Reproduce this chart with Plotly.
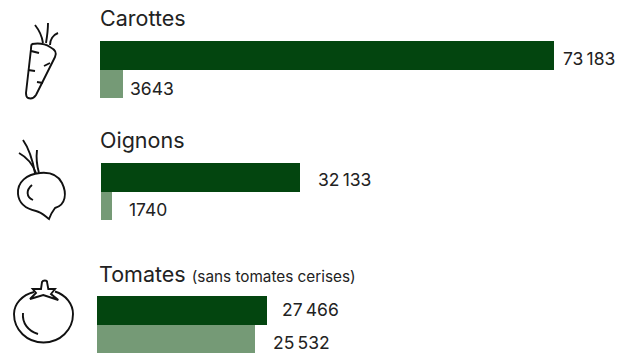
import re
import plotly.graph_objects as go

# Vegetables and their two yearly figures
categories = ["Carottes", "Oignons", "Tomates"]
subtitles = ["", "", " <span style='font-size:15.3px'>(sans tomates cerises)</span>"]
dark_values = [73183, 32133, 27466]
light_values = [3643, 1740, 25532]
dark_labels = ["73\u2009183", "32\u2009133", "27\u2009466"]
light_labels = ["3643", "1740", "25\u2009532"]

W, H = 632, 354
DARK, LIGHT = "#03450f", "#759a76"
INK = "#222222"
FONT = "Inter"
PX_PER_UNIT = 0.0062

# Per-group layout in pixels: bar start, top, bottom, title position,
# and the label offsets from the end of each bar
groups = [
    dict(x0=100, top=40, bottom=98, title_y=18, title_x=100,
         dark_shift=7, light_shift=5, dark_rise=-3, light_rise=-4.5),
    dict(x0=101, top=163, bottom=220, title_y=140, title_x=100,
         dark_shift=16, light_shift=15, dark_rise=-2, light_rise=-3.5),
    dict(x0=97, top=296, bottom=353, title_y=274, title_x=99,
         dark_shift=13, light_shift=16, dark_rise=1, light_rise=-4),
]


def paper_path(d):
    """Convert an SVG path in pixel coordinates to paper coordinates."""
    tokens = re.findall(r"[MLCZ]|-?[\d.]+", d)
    out, is_x = [], True
    for t in tokens:
        if t.isalpha():
            out.append(t)
            is_x = True
        else:
            v = float(t)
            out.append(f"{v / W:.5f}" if is_x else f"{1 - v / H:.5f}")
            is_x = not is_x
    return " ".join(out)


fig = go.Figure()
annotations = []
layout_axes = {}

for i, g in enumerate(groups):
    n = "" if i == 0 else str(i + 1)
    xa, ya = f"x{n}", f"y{n}"
    names = ["dark", "light"]
    for name, val, col in zip(names, [dark_values[i], light_values[i]], [DARK, LIGHT]):
        fig.add_trace(go.Bar(
            x=[val], y=[name], orientation="h", marker=dict(color=col, line_width=0),
            xaxis=xa, yaxis=ya, showlegend=False, hoverinfo="skip", width=1,
        ))
    layout_axes[f"xaxis{n}"] = dict(
        domain=[g["x0"] / W, 1], range=[0, (W - g["x0"]) / PX_PER_UNIT],
        visible=False, anchor=ya, fixedrange=True,
    )
    layout_axes[f"yaxis{n}"] = dict(
        domain=[1 - g["bottom"] / H, 1 - g["top"] / H], categoryorder="array",
        categoryarray=names, autorange="reversed", visible=False, anchor=xa, fixedrange=True,
    )
    for name, val, lab, shift, rise in zip(
        names,
        [dark_values[i], light_values[i]],
        [dark_labels[i], light_labels[i]],
        [g["dark_shift"], g["light_shift"]],
        [g["dark_rise"], g["light_rise"]],
    ):
        annotations.append(dict(
            x=val, y=name, xref=xa, yref=ya, text=lab, showarrow=False, xanchor="left",
            xshift=shift, yshift=rise, font=dict(family=FONT, size=17.5, color=INK),
        ))
    annotations.append(dict(
        x=g["title_x"] / W, y=1 - g["title_y"] / H, xref="paper", yref="paper",
        text=categories[i] + subtitles[i], showarrow=False, xanchor="left", yanchor="middle",
        xshift=-2, font=dict(family=FONT, size=21.5, color=INK),
    ))

# Line-art vegetable icons
carrot = [
    "M 32 44 C 38 43 44 43 50 47 C 56 50 57 53 55 57 L 36 95 C 34 98 31 99 28 98 C 26 97 26 95 26 93 L 31 49 C 31 46 31 45 32 44",
    "M 31 51 L 39 53",
    "M 44 66 L 50 63",
    "M 28 70 L 35 71",
    "M 37 82 L 43 83",
    "M 35 25 C 39 30 42 36 43 43",
    "M 48 23 C 48 30 47 37 46 43",
    "M 58 33 C 53 35 50 40 50 45",
]
beet = [
    "M 40 173 C 50 172 58 175 62 183 C 67 193 66 205 55 208 C 52 212 50 216 49 219 C 45 216 41 212 36 211 C 27 209 19 205 18 194 C 17 182 27 174 40 173",
    "M 32 185 C 26 190 26 197 33 200",
    "M 23 140 C 30 150 33 162 35 173",
    "M 19 153 C 28 158 33 165 36 173",
    "M 37 150 C 36 158 37 166 39 173",
]
tomato = [
    "M 34 292 C 22 295 14 304 14 314 C 14 330 27 342.5 43.5 342.5 C 60 342.5 73 330 73 314 C 73 304 66 295 55 291.5",
    "M 23 313 C 22 323 28 331 38 334",
    "M 41 289 L 42 282 C 43 280 47 280 47 282 L 48.3 289 L 55 289 L 51 294 L 58.3 300 L 43.3 295 L 30 299 L 36 293 L 32.7 289 Z",
]
shapes = [
    dict(type="path", path=paper_path(p), xref="paper", yref="paper",
         line=dict(color="#111111", width=1.9), fillcolor="rgba(0,0,0,0)")
    for p in carrot + beet + tomato
]

fig.update_layout(
    width=W, height=H, margin=dict(l=0, r=0, t=0, b=0), autosize=False,
    paper_bgcolor="white", plot_bgcolor="white", barmode="overlay",
    bargap=0, annotations=annotations, shapes=shapes, **layout_axes,
)
fig.write_html("out.html", config=dict(displayModeBar=False))
